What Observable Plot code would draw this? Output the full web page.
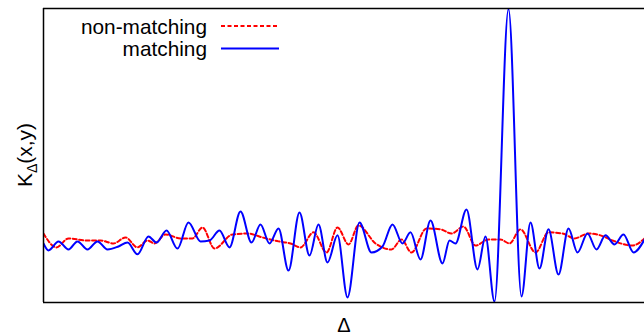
<!DOCTYPE html>
<html>
<head>
<meta charset="utf-8">
<script src="https://cdn.jsdelivr.net/npm/d3@7"></script>
<script src="https://cdn.jsdelivr.net/npm/@observablehq/plot@0.6"></script>
<style>
  html, body { margin: 0; padding: 0; background: #fff; }
  svg { font-family: "Liberation Sans", Arial, sans-serif; display: block; }
</style>
</head>
<body>
<div id="chart"></div>
<script>
// matching series (Δ, K)
const deltaMatching = [0,5,15,25,34,44,54,64,75,84,94,105,113,123,134,145,157,166,176,186,197,208,217,226,235,245,256,266,275,284,294,304,316,328,339,349,359,367,377,387,399,406,412,423,434,442,451,465,478,487,496,505,515,525,534,544,553,562,571,580,590,601];
const kMatching = [-0.013,-0.043,-0.004,-0.039,-0.004,-0.039,-0.004,-0.039,-0.026,-0.009,-0.060,0.017,-0.009,0.043,-0.035,0.078,-0.004,0.000,0.043,-0.030,0.125,-0.009,0.069,-0.013,0.052,-0.130,0.121,-0.065,0.069,-0.095,0.022,-0.246,0.078,-0.052,-0.026,0.069,-0.013,0.035,-0.082,0.086,-0.099,0.000,-0.013,0.134,-0.125,0.017,-0.264,1.000,-0.242,0.078,-0.121,0.048,-0.147,0.052,-0.052,0.030,-0.039,0.022,-0.017,0.026,-0.052,0.004];

// non-matching series (Δ, K)
const deltaNonMatching = [0,13,25,42,57,70,82,94,104,111,122,137,149,159,171,189,204,219,235,247,257,270,283,294,305,315,332,348,358,368,383,397,408,420,432,445,457,466,477,492,505,519,531,545,557,569,589,601];
const kNonMatching = [0.030,-0.030,0.009,0.000,0.000,-0.013,0.013,-0.030,0.000,-0.013,0.026,0.009,0.009,0.056,-0.035,0.026,0.030,0.013,-0.004,-0.013,-0.030,0.035,-0.052,0.056,-0.017,0.065,-0.013,-0.039,0.004,-0.052,0.052,0.048,0.030,0.060,-0.022,0.004,0.004,-0.013,0.048,-0.052,0.035,0.030,0.009,0.030,0.022,0.000,-0.022,0.009];

const seriesLabels = ["non-matching", "matching"];
const xDomain = [0, 601];
const yDomain = [-0.268, 1.002];

const matching = deltaMatching.map((d, i) => ({delta: d, k: kMatching[i]}));
const nonMatching = deltaNonMatching.map((d, i) => ({delta: d, k: kNonMatching[i]}));

const svg = Plot.plot({
  width: 644,
  height: 335,
  marginLeft: 43,
  marginRight: 0,
  marginTop: 8,
  marginBottom: 33,
  x: {domain: xDomain, axis: null},
  y: {domain: yDomain, axis: null},
  marks: [
    Plot.line(nonMatching, {x: "delta", y: "k", stroke: "#ff0000", strokeWidth: 2, strokeDasharray: "4,2.5", curve: "monotone-x", clip: true}),
    Plot.line(matching, {x: "delta", y: "k", stroke: "#0000ff", strokeWidth: 2, curve: "monotone-x", clip: true}),
    Plot.ruleX([xDomain[0]], {stroke: "#000", strokeWidth: 1.5}),
    Plot.ruleY(yDomain, {stroke: "#000", strokeWidth: 1.5})
  ]
});

const s = d3.select(svg);
// y label
const yl = s.append("text")
  .attr("transform", "translate(32,155) rotate(-90)")
  .attr("text-anchor", "middle")
  .attr("font-size", 21)
  .attr("fill", "#000");
yl.append("tspan").text("K");
yl.append("tspan").attr("dy", 5).attr("font-size", 14).text("Δ");
yl.append("tspan").attr("dy", -5).text("(x,y)");

// x label
s.append("text")
  .attr("x", 344).attr("y", 332)
  .attr("text-anchor", "middle")
  .attr("font-size", 20)
  .attr("fill", "#000")
  .text("Δ");

// legend
const leg = s.append("g").attr("font-size", 20.8).attr("fill", "#000");
leg.append("text").attr("x", 207).attr("y", 33.5).attr("text-anchor", "end").text(seriesLabels[0]);
leg.append("text").attr("x", 207).attr("y", 56).attr("text-anchor", "end").text(seriesLabels[1]);
leg.append("line").attr("x1", 221).attr("x2", 279).attr("y1", 26).attr("y2", 26)
  .attr("stroke", "#ff0000").attr("stroke-width", 2).attr("stroke-dasharray", "4,2.5");
leg.append("line").attr("x1", 221).attr("x2", 279).attr("y1", 48.5).attr("y2", 48.5)
  .attr("stroke", "#0000ff").attr("stroke-width", 2);

document.getElementById("chart").appendChild(svg);
</script>
</body>
</html>
